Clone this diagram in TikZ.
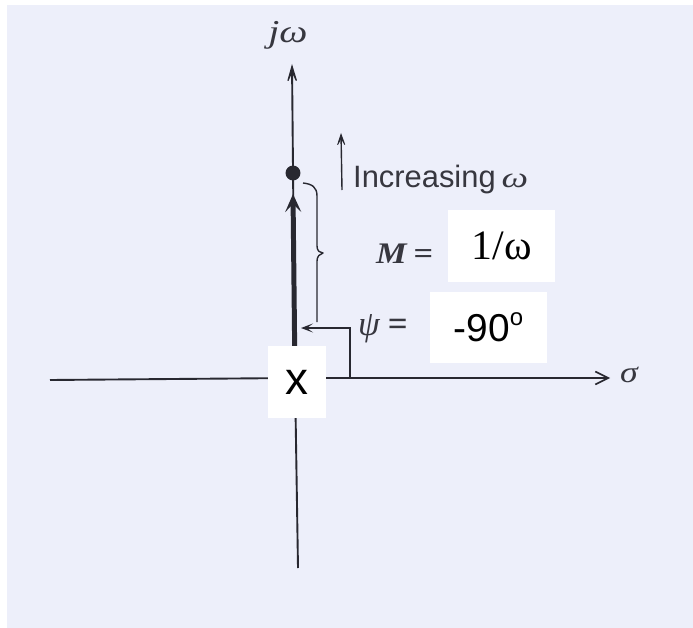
\documentclass[tikz,border=0pt]{standalone}
\usepackage{fontspec}
\setmainfont{Liberation Serif}
\newfontfamily\arialf{Liberation Sans}
\usetikzlibrary{arrows.meta}
\definecolor{paper}{RGB}{237,239,250}
\definecolor{ink}{RGB}{40,40,48}
\definecolor{greyink}{RGB}{55,55,63}
\tikzset{
  axisline/.style={draw=ink, line width=1.9pt},
  thinline/.style={draw=ink, line width=1.4pt},
  labelbox/.style={fill=white, inner sep=0pt, text=black},
  faint/.style={text=greyink, inner sep=0pt},
}
\begin{document}
\begin{tikzpicture}[x=1bp,y=-1bp]
\useasboundingbox (0,0) rectangle (693,628);
\fill[white] (0,0) rectangle (693,628);
\fill[paper] (7,5) rectangle (693,628);
% coordinates
\coordinate (o) at (295,378);
\coordinate (xl) at (50,380);
\coordinate (xr) at (610,378);
\coordinate (yb) at (298,568);
\coordinate (yt) at (292,64);
\coordinate (vt) at (293,194);
% axes
\draw[axisline] (xl) -- (o);
\draw[axisline, -{Straight Barb[length=13pt,width=13pt,line width=1.6pt]}] (o) -- (xr);
\draw[axisline] (yb) -- (o);
\draw[axisline, -{Stealth[length=24pt,width=14pt,inset=15pt,line width=1.2pt]}] (o) -- (yt);
% thick vector
\draw[draw=ink, line width=5pt, -{Stealth[length=18pt,width=16pt,inset=8pt]}] (o) -- (vt);
% dot
\node[circle, fill=ink, minimum size=15pt, inner sep=0pt] (dot) at (293,173) {};
% labels
\node[faint, anchor=base] (jw) at (288,43) {\scalebox{1.25}[1]{\fontsize{32}{32}\selectfont\itshape jω}};
\node[faint, anchor=base west] (sig) at (620,382) {\scalebox{1.2}[1]{\fontsize{30}{30}\selectfont\itshape σ}};
% increasing omega
\coordinate (ia) at (342,190);
\coordinate (ib) at (341,133);
\draw[thinline, -{Stealth[length=16pt,width=11pt,inset=10pt,line width=0.8pt]}] (ia) -- (ib);
\node[faint, anchor=base west] (inc) at (353,188) {\arialf\fontsize{31}{31}\selectfont Increasing\hspace{6bp}\scalebox{1.3}[1]{\rmfamily\itshape\fontsize{29}{29}\selectfont ω}};
% brace
\draw[thinline, line join=round] (303,183) .. controls (312,184) and (317,187) .. (317,196) -- (317,246) .. controls (317,251) and (320,253) .. (323,253) .. controls (320,254) and (317,256) .. (317,261) -- (317,322);
% psi indicator
\coordinate (p0) at (350,378);
\coordinate (p1) at (350,328);
\coordinate (p2) at (301,328);
\draw[thinline, -{Stealth[length=12pt,width=9pt,inset=6pt]}] (p0) -- (p1) -- (p2);
\node[faint, anchor=base west] (M) at (376,263) {\scalebox{1.15}[1]{\fontsize{30}{30}\selectfont\bfseries\itshape M\hspace{6bp}\upshape=}};
\node[faint, anchor=base west] (psi) at (358,335) {\fontsize{35}{35}\selectfont\itshape ψ\hspace{8bp}\bfseries\upshape=};
% white label boxes
\node[labelbox, minimum width=107bp, minimum height=72bp] (boxM) at (501.5,246) {\fontsize{42}{42}\selectfont 1/ω};
\node[labelbox, minimum width=117bp, minimum height=71bp] (boxP) at (488.5,327.5) {\arialf\fontsize{39}{39}\selectfont -90\raisebox{0.42em}{\fontsize{24}{24}\selectfont o}};
\node[labelbox, minimum width=58bp, minimum height=72bp] (boxX) at (297,382) {\arialf\fontsize{46}{46}\selectfont x};
\end{tikzpicture}
\end{document}
